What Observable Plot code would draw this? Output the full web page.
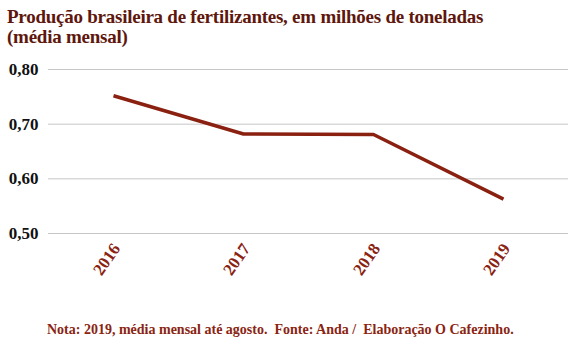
<!DOCTYPE html>
<html>
<head>
<meta charset="utf-8">
<script src="https://cdn.jsdelivr.net/npm/d3@7"></script>
<script src="https://cdn.jsdelivr.net/npm/@observablehq/plot@0.6"></script>
<style>
  html, body { margin: 0; padding: 0; background: #fff; }
  #wrap { position: relative; width: 568px; height: 352px; overflow: hidden; font-family: "Liberation Serif", "Times New Roman", serif; }
  #title { position: absolute; left: 7px; top: 7px; font-size: 19px; line-height: 20px; font-weight: bold; color: #5e170d; letter-spacing: -0.25px; white-space: nowrap; }
  #chart { position: absolute; left: 0; top: 44px; }
  #note { position: absolute; left: 47px; top: 323px; font-size: 14px; line-height: 14px; font-weight: bold; color: #8a2412; white-space: pre; }
</style>
</head>
<body>
<div id="wrap">
  <div id="title">Produção brasileira de fertilizantes, em milhões de toneladas<br>(média mensal)</div>
  <div id="chart"></div>
  <div id="note">Nota: 2019, média mensal até agosto.  Fonte: Anda /  Elaboração O Cafezinho.</div>
</div>
<script>
const years = ["2016", "2017", "2018", "2019"];
const values = [0.752, 0.682, 0.681, 0.563];
const yTicks = [0.5, 0.6, 0.7, 0.8];

const data = years.map((y, i) => ({year: y, value: values[i]}));
const fmt = d => d.toFixed(2).replace(".", ",");

const chart = Plot.plot({
  width: 568,
  height: 270,
  marginTop: 25,
  marginBottom: 81,
  marginLeft: 48,
  marginRight: 0,
  style: {fontFamily: "'Liberation Serif', 'Times New Roman', serif", background: "transparent"},
  x: {type: "point", domain: years, padding: 0.5},
  y: {domain: [0.5, 0.8]},
  marks: [
    Plot.gridY(yTicks, {stroke: "#c6c6c6", strokeOpacity: 1, strokeWidth: 1}),
    Plot.axisY(yTicks, {tickSize: 0, tickPadding: 10, tickFormat: fmt, fontSize: 17, fontWeight: "bold", fill: "#111", label: null}),
    Plot.axisX({tickSize: 0, tickPadding: 12, dx: 3, tickRotate: -55, fontSize: 17, fontWeight: "bold", fill: "#8a2412", label: null}),
    Plot.line(data, {x: "year", y: "value", stroke: "#8a2010", strokeWidth: 3.5, strokeLinecap: "butt", strokeLinejoin: "miter"})
  ]
});
document.getElementById("chart").appendChild(chart);
</script>
</body>
</html>
